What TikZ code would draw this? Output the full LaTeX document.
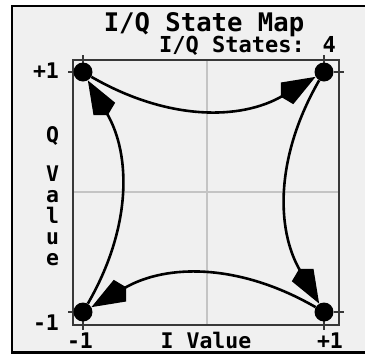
\documentclass[tikz,border=0pt]{standalone}
\usepackage{fontspec}
\newfontfamily\lcd{DejaVu Sans Mono}
\usetikzlibrary{arrows.meta}
\definecolor{panel}{HTML}{F0F0F0}
\definecolor{gridline}{HTML}{C4C4C4}
\definecolor{boxline}{HTML}{383838}
\tikzset{
  dot/.style={circle,fill=black,inner sep=0pt,minimum size=19pt},
  link/.style={line width=2.6pt,-{Kite[length=40pt,width=25pt,inset=7pt]}},
  lbl/.style={inner sep=0pt,anchor=base,font=\lcd\bfseries\fontsize{21.5}{22}\selectfont},
  tick/.style={line width=1.4pt,draw=boxline}
}

\begin{document}
\begin{tikzpicture}[x=1pt,y=-1pt]
\useasboundingbox (0,0) rectangle (365,354);
\fill[white] (0,0) rectangle (365,354);
\fill[panel] (12,6) rectangle (365,352);
\draw[line width=2.2pt] (366,5.8) -- (12.2,5.8) -- (12.2,352.5) -- (366,352.5);

% title
\node[lbl,font=\lcd\bfseries\fontsize{25.6}{26}\selectfont] (title) at (204,31) {I/Q State Map};
\node[lbl,anchor=base east,font=\lcd\bfseries\fontsize{22}{23}\selectfont] (states) at (336,52) {I/Q States: 4};

% plot box
\draw[gridline,line width=1.3pt] (207,60) -- (207,325) (73,192) -- (339,192);
\draw[boxline,line width=1.5pt] (73,60) rectangle (339,325);
\foreach \t in {83,324}{
  \draw[tick] (\t,55) -- (\t,65) (\t,320) -- (\t,330);
}
\foreach \t in {72,312}{
  \draw[tick] (68,\t) -- (78,\t) (334,\t) -- (344,\t);
}

% axis labels
\node[lbl] (qp) at (46,78) {+1};
\node[lbl] (qm) at (46,330) {-1};
\node[lbl] (ip) at (330,348) {+1};
\node[lbl] (im) at (80,348) {-1};
\node[lbl] (ilab) at (206,348) {I Value};
\node[lbl] (qlab) at (52.5,142) {Q};
\foreach \ch/\yy in {V/181,a/202,l/223,u/244,e/265}{
  \node[lbl] (q\ch) at (52.5,\yy) {\ch};
}

% states
\node[dot] (tl) at (83,72) {};
\node[dot] (tr) at (324,72) {};
\node[dot] (br) at (324,312) {};
\node[dot] (bl) at (83,312) {};

\draw[link] (tl) to[bend right=30] (tr);
\draw[link] (tr) to[bend right=30] (br);
\draw[link] (br) to[bend right=30] (bl);
\draw[link] (bl) to[bend right=30] (tl);
\end{tikzpicture}
\end{document}
